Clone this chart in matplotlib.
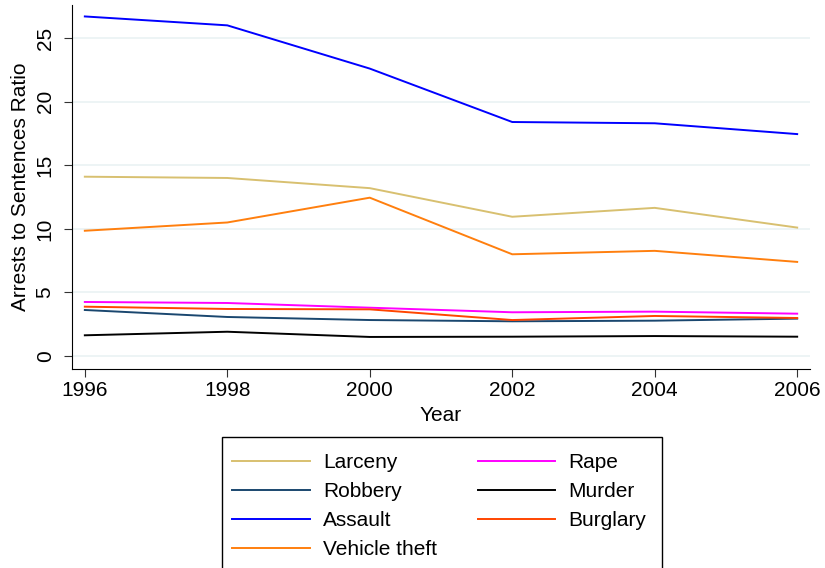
import matplotlib.pyplot as plt
from matplotlib.patches import Rectangle

plt.rcParams['font.family'] = ['Liberation Sans', 'DejaVu Sans']

years = [1996, 1998, 2000, 2002, 2004, 2006]
larceny = [14.1, 14.0, 13.2, 10.95, 11.65, 10.1]
robbery = [3.62, 3.07, 2.83, 2.73, 2.78, 2.94]
assault = [26.7, 26.0, 22.6, 18.4, 18.3, 17.45]
vehicle = [9.85, 10.5, 12.45, 8.0, 8.27, 7.4]
rape = [4.25, 4.17, 3.8, 3.44, 3.49, 3.33]
murder = [1.63, 1.91, 1.50, 1.52, 1.57, 1.52]
burglary = [3.88, 3.7, 3.67, 2.83, 3.15, 2.99]

fig = plt.figure(figsize=(8.25, 5.68), dpi=100)
ax = fig.add_axes([72/825, 1 - 369/568, (810-72)/825, (369-5)/568])

lines = []
lines += ax.plot(years, larceny, color='#d8c070', lw=1.4, label='Larceny')
lines += ax.plot(years, robbery, color='#1a476f', lw=1.4, label='Robbery')
lines += ax.plot(years, assault, color='#0000ff', lw=1.4, label='Assault')
lines += ax.plot(years, vehicle, color='#ff7f0e', lw=1.4, label='Vehicle theft')
lines += ax.plot(years, rape, color='#ff00ff', lw=1.4, label='Rape')
lines += ax.plot(years, murder, color='#000000', lw=1.4, label='Murder')
lines += ax.plot(years, burglary, color='#ff4500', lw=1.4, label='Burglary')

fs = 15
ax.set_xlim(1995.82, 2006.18)
ax.set_ylim(-1.02, 27.6)
ax.set_xticks(years)
ax.set_yticks([0, 5, 10, 15, 20, 25])
ax.grid(axis='y', color='#eaf2f3', lw=1.2)
ax.set_axisbelow(True)
ax.spines['top'].set_visible(False)
ax.spines['right'].set_visible(False)
ax.tick_params(labelsize=fs, length=6, color='#333333')
ax.tick_params(axis='x', pad=3)
ax.tick_params(axis='y', pad=6.5)
for lab in ax.get_yticklabels():
    lab.set_rotation(90)
    lab.set_va('center')
ax.set_xlabel('Year', fontsize=fs, labelpad=4)
ax.set_ylabel('Arrests to Sentences Ratio', fontsize=fs, labelpad=4)

# legend box runs off the bottom edge like the original
fig.patches.append(Rectangle((222/825, -0.05), (662-222)/825, 0.05 + 131/568,
                             transform=fig.transFigure, fill=False,
                             edgecolor='black', lw=1.0))
leg = fig.legend(handles=lines, ncol=2, loc='upper left',
                 bbox_to_anchor=(222/825, 1 - 443/568), fontsize=fs,
                 frameon=False,
                 handlelength=3.7, handletextpad=0.65, columnspacing=1.95,
                 labelspacing=0.48, borderpad=0.5, borderaxespad=0)

fig.savefig('out.png', dpi=100)
